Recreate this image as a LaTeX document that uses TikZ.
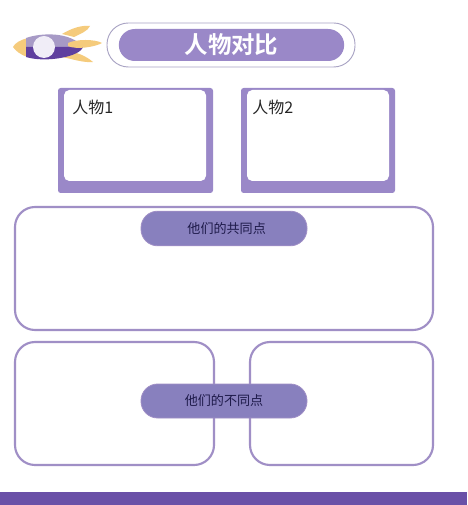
\documentclass[tikz,border=0pt]{standalone}
\usepackage{fontspec}
\setmainfont{Liberation Sans}
\newfontfamily\cjk{Noto Sans CJK SC}
\newfontfamily\cjkb{Noto Sans CJK SC Bold}
\definecolor{lilac}{HTML}{9A88C8}
\definecolor{pillblue}{HTML}{8880BE}
\definecolor{edgepurple}{HTML}{A08FC6}
\definecolor{barpurple}{HTML}{6A50A7}
\definecolor{rocketdark}{HTML}{5F3F9F}
\definecolor{rocketlight}{HTML}{A79AC6}
\definecolor{gold}{HTML}{F5CB7C}
\definecolor{ink}{HTML}{1E1A4A}
\definecolor{outline}{HTML}{A9A4C4}
\tikzset{
  x=0.75pt,y=-0.75pt,
  panel/.style={draw=edgepurple,line width=1.6pt,fill=white,rounded corners=15pt},
  label pill/.style={fill=pillblue,draw=edgepurple,line width=0.6pt,rounded corners=12.5pt},
  pilltext/.style={font=\cjk\fontsize{9.8}{12}\selectfont,text=ink},
  nametext/.style={font=\cjk\fontsize{12}{14}\selectfont,text=black!85,anchor=west,inner sep=0pt},
  frameback/.style={fill=lilac,rounded corners=2pt},
  framefront/.style={fill=white,rounded corners=4pt},
}
\begin{document}
\begin{tikzpicture}
\useasboundingbox (0,0) rectangle (467,505);
\fill[white] (0,0) rectangle (467,505);
% rocket
\fill[gold] (62,34) .. controls (72,28) and (82,25) .. (90,26) .. controls (88,31) and (80,34) .. (74,37) -- cycle;
\fill[gold] (62,57) .. controls (72,59) and (84,63) .. (93,62) .. controls (86,56) and (78,53) .. (72,52) -- cycle;
\fill[gold] (28,38) .. controls (20,40) and (15,43) .. (13,47) .. controls (15,50) and (20,55) .. (28,57) -- cycle;
\fill[rocketlight] (26,38) .. controls (40,33) and (70,31) .. (83,47) -- (26,47) -- cycle;
\fill[rocketdark] (26,47) -- (83,47) .. controls (80,57) and (45,63) .. (26,57) -- cycle;
\fill[gold] (68,43) .. controls (76,39) and (95,39) .. (102,43) .. controls (95,47) and (76,50) .. (68,46) -- cycle;
\node[circle,fill=white!85!lilac,minimum size=16.5pt,inner sep=0pt] (window) at (44,47) {};
% title
\node[draw=outline,line width=0.7pt,fill=white,rounded corners=16pt,minimum width=186pt,minimum height=33pt,inner sep=0pt] (titleouter) at (231,45) {};
\node[fill=lilac,rounded corners=12pt,minimum width=169pt,minimum height=24pt,inner sep=0pt,text=white,font=\cjkb\fontsize{17.6}{20}\selectfont] (titlepill) at (231.5,45) {人物对比};
% person frames
\fill[frameback] (58,88) rectangle (213,193);
\fill[framefront] (64,90) rectangle (206,181);
\node[nametext] (p1) at (72,107) {\cjk 人物1};
\fill[frameback] (241,88) rectangle (395,193);
\fill[framefront] (247,90) rectangle (389,181);
\node[nametext] (p2) at (252,107) {\cjk 人物2};
% panels
\draw[panel] (15,207) rectangle (433,330);
\draw[panel] (15,342) rectangle (214,465);
\draw[panel] (250,342) rectangle (433,465);
\node[label pill,minimum width=124.5pt,minimum height=26pt,inner sep=0pt,pilltext] (common) at (224,228.5) {\hspace*{4pt}他们的共同点};
\node[label pill,minimum width=124.5pt,minimum height=25.5pt,inner sep=0pt,pilltext] (diff) at (224,401) {他们的不同点};
% bottom bar
\fill[barpurple] (0,492) rectangle (467,505);
\end{tikzpicture}
\end{document}
